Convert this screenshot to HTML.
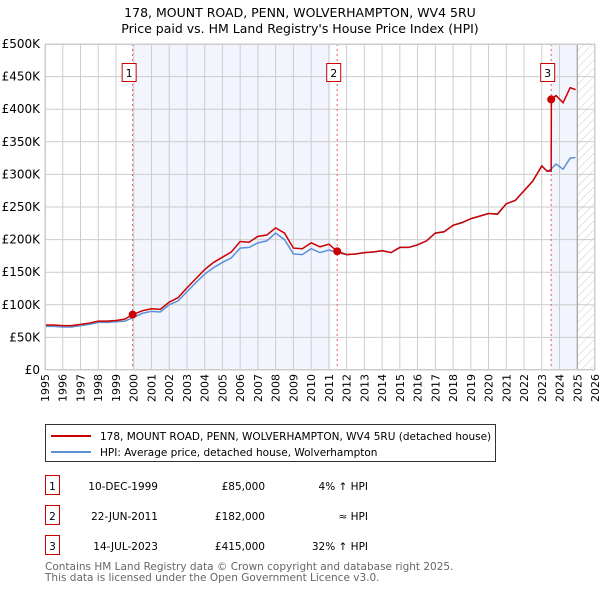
<!DOCTYPE html>
<html><head><meta charset="utf-8"><style>
body{margin:0;background:#fff;font-family:"DejaVu Sans","Liberation Sans",sans-serif;}
svg text{font-family:"DejaVu Sans","Liberation Sans",sans-serif;}
</style></head><body>
<svg id="chart" width="600" height="590" xmlns="http://www.w3.org/2000/svg">
<defs><pattern id="hatch" patternUnits="userSpaceOnUse" width="6" height="6" patternTransform="rotate(45)"><line x1="0" y1="0" x2="0" y2="6" stroke="#ccc" stroke-width="1"/></pattern></defs>
<text x="300" y="17" text-anchor="middle" font-size="12.5">178, MOUNT ROAD, PENN, WOLVERHAMPTON, WV4 5RU</text>
<text x="300" y="33" text-anchor="middle" font-size="12.5">Price paid vs. HM Land Registry's House Price Index (HPI)</text>
<g id="plot"></g>
<g>
<rect x="45.5" y="424.5" width="450" height="37" fill="#fff" stroke="#333"/>
<line x1="51" y1="436" x2="91" y2="436" stroke="#cc0000" stroke-width="2"/>
<text x="100" y="440" font-size="10.5">178, MOUNT ROAD, PENN, WOLVERHAMPTON, WV4 5RU (detached house)</text>
<line x1="51" y1="452" x2="91" y2="452" stroke="#5b8fd6" stroke-width="2"/>
<text x="100" y="456" font-size="10.5">HPI: Average price, detached house, Wolverhampton</text>
</g>
<g id="table" font-size="10.5"></g>
<text x="45" y="570" font-size="10.5" fill="#666">Contains HM Land Registry data © Crown copyright and database right 2025.</text>
<text x="45" y="581" font-size="10.5" fill="#666">This data is licensed under the Open Government Licence v3.0.</text>
</svg>
<script>
const hpiYears=[1995,1995.5,1996,1996.5,1997,1997.5,1998,1998.5,1999,1999.5,1999.94,2000.5,2001,2001.5,2002,2002.5,2003,2003.5,2004,2004.5,2005,2005.5,2006,2006.5,2007,2007.5,2008,2008.5,2009,2009.5,2010,2010.5,2011,2011.47,2012,2012.5,2013,2013.5,2014,2014.5,2015,2015.5,2016,2016.5,2017,2017.5,2018,2018.5,2019,2019.5,2020,2020.5,2021,2021.5,2022,2022.5,2023,2023.3,2023.53,2023.8,2024.2,2024.6,2024.9];
const hpiValues=[67,67,66,66,68,70,73,73,74,75,80,87,90,89,100,106,120,134,147,157,165,172,187,188,195,198,210,200,178,177,186,180,184,180,177,178,180,181,183,180,188,188,192,198,210,212,222,226,232,236,240,239,255,260,275,290,313,305,308,316,308,325,326];
const redYears=[1995,1995.5,1996,1996.5,1997,1997.5,1998,1998.5,1999,1999.5,1999.94,2000.5,2001,2001.5,2002,2002.5,2003,2003.5,2004,2004.5,2005,2005.5,2006,2006.5,2007,2007.5,2008,2008.5,2009,2009.5,2010,2010.5,2011,2011.47,2012,2012.5,2013,2013.5,2014,2014.5,2015,2015.5,2016,2016.5,2017,2017.5,2018,2018.5,2019,2019.5,2020,2020.5,2021,2021.5,2022,2022.5,2023,2023.3,2023.53,2023.54,2023.8,2024.2,2024.6,2024.9];
const redValues=[69,69,68,68,70,72,75,75,76,78,85,91,94,93,104,111,126,140,154,165,173,181,197,196,205,207,218,210,187,186,195,189,193,182,177,178,180,181,183,180,188,188,192,198,210,212,222,226,232,236,240,239,255,260,275,290,313,305,305,415,421,410,433,430];
const saleYears=[1999.94,2011.47,2023.53];
const salePrices=[85,182,415];
const saleLabels=["1","2","3"];
const saleDates=["10-DEC-1999","22-JUN-2011","14-JUL-2023"];
const salePriceText=["£85,000","£182,000","£415,000"];
const saleHpiText=["4% ↑ HPI","≈ HPI","32% ↑ HPI"];
const yTicks=[0,50,100,150,200,250,300,350,400,450,500];
const yTickLabels=["£0","£50K","£100K","£150K","£200K","£250K","£300K","£350K","£400K","£450K","£500K"];
const xTicks=[1995,1996,1997,1998,1999,2000,2001,2002,2003,2004,2005,2006,2007,2008,2009,2010,2011,2012,2013,2014,2015,2016,2017,2018,2019,2020,2021,2022,2023,2024,2025,2026];

const X0=45,X1=595,Y0=370,Y1=44;
const xs=y=>X0+(y-1995)/(2026-1995)*(X1-X0);
const ys=v=>Y0-(v/500)*(Y0-Y1);
const NS="http://www.w3.org/2000/svg";
const plot=document.getElementById('plot');
function mk(tag,attrs,parent){const e=document.createElementNS(NS,tag);for(const k in attrs)e.setAttribute(k,attrs[k]);(parent||plot).appendChild(e);return e;}
let e;
e=mk('rect',{x:X0,y:Y1,width:X1-X0,height:Y0-Y1,fill:'#fff'});


e=mk('rect',{x:xs(saleYears[0]),y:Y1,width:xs(2011.1)-xs(saleYears[0]),height:Y0-Y1,fill:'#f2f5fd'});


e=mk('rect',{x:xs(saleYears[2]),y:Y1,width:xs(2025)-xs(saleYears[2]),height:Y0-Y1,fill:'#f2f5fd'});


e=mk('rect',{x:xs(2025),y:Y1,width:X1-xs(2025),height:Y0-Y1,fill:'url(#hatch)'});


xTicks.forEach(t=>{
 e=mk('line',{x1:xs(t),x2:xs(t),y1:Y1,y2:Y0,stroke:'#ccc','stroke-width':1});
 
 
 e=mk('text',{x:xs(t)+4,y:Y0+4,'font-size':11,'text-anchor':'end',transform:`rotate(-90 ${xs(t)+4} ${Y0+4})`});
 e.textContent=t;
 
 
});
yTicks.forEach((t,i)=>{
 e=mk('line',{x1:X0,x2:X1,y1:ys(t),y2:ys(t),stroke:'#ccc','stroke-width':1});
 
 
 e=mk('text',{x:X0-5,y:ys(t)+4,'font-size':12,'text-anchor':'end'});
 e.textContent=yTickLabels[i];
 
 
});
e=mk('line',{x1:xs(2025),x2:xs(2025),y1:Y1,y2:Y0,stroke:'#999','stroke-width':1});


saleYears.forEach((s,i)=>{
 e=mk('line',{x1:xs(s),x2:xs(s),y1:Y1,y2:Y0,stroke:'#e55','stroke-width':1,'stroke-dasharray':'2,3'});
 
 
 e=mk('rect',{x:xs(s)-10.5,y:63.5,width:14,height:18,fill:'#fff',stroke:'#cc0000'});
 
 
 e=mk('text',{x:xs(s)-3.5,y:77,'font-size':11,'text-anchor':'middle'});
 e.textContent=saleLabels[i];
 
 
});
e=mk('polyline',{points:hpiYears.map((y,i)=>xs(y)+','+ys(hpiValues[i])).join(' '),fill:'none',stroke:'#5b8fd6','stroke-width':1.5});


e=mk('polyline',{points:redYears.map((y,i)=>xs(y)+','+ys(redValues[i])).join(' '),fill:'none',stroke:'#cc0000','stroke-width':1.5});


saleYears.forEach((s,i)=>{
 e=mk('circle',{cx:xs(s),cy:ys(salePrices[i]),r:4,fill:'#cc0000'});
 
 
});
e=mk('rect',{x:X0+0.5,y:Y1+0.5,width:X1-X0-1,height:Y0-Y1-1,fill:'none',stroke:'#ccc'});


const tbl=document.getElementById('table');
saleYears.forEach((s,i)=>{
 const cy=486+i*30;
 e=mk('rect',{x:45.5,y:cy-10.5,width:14,height:19,fill:'#fff',stroke:'#cc0000'},tbl);
 
 
 e=mk('text',{x:52.5,y:cy+4,'text-anchor':'middle'},tbl);
 e.textContent=saleLabels[i];
 
 
 e=mk('text',{x:158,y:cy+4,'text-anchor':'end'},tbl);
 e.textContent=saleDates[i];
 
 
 e=mk('text',{x:265,y:cy+4,'text-anchor':'end'},tbl);
 e.textContent=salePriceText[i];
 
 
 e=mk('text',{x:368,y:cy+4,'text-anchor':'end'},tbl);
 e.textContent=saleHpiText[i];
 
 
});
</script>
</body></html>
